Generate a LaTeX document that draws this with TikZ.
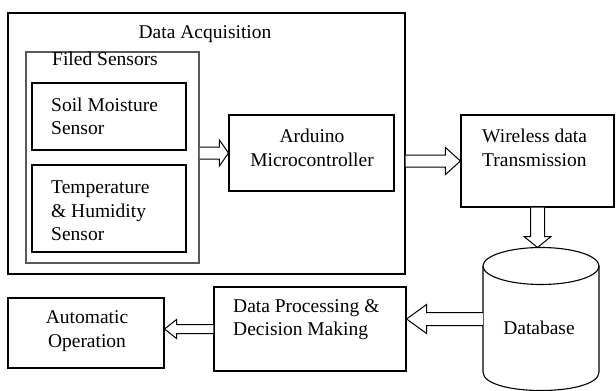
\documentclass[tikz,border=0pt]{standalone}
\usepackage{fontspec}
\setmainfont{Liberation Serif}
\usetikzlibrary{calc}

\tikzset{
  box/.style={draw, line width=1.1pt, rectangle, inner sep=0pt},
  txt/.style={font=\fontsize{19.5}{23.5}\selectfont, inner sep=0pt, align=left},
}
% hollow arrow: from, to, shaft half width, head half width, head length
\newcommand{\hollowarrow}[5]{%
  \coordinate (ha-c) at ($(#2)!#5!(#1)$);
  \draw[line width=1pt, fill=white] ($(#1)!#3!90:(#2)$) -- ($(ha-c)!#3!-90:(#1)$)
    -- ($(ha-c)!#4!-90:(#1)$) -- (#2) -- ($(ha-c)!#4!90:(#1)$)
    -- ($(ha-c)!#3!90:(#1)$) -- ($(#1)!#3!-90:(#2)$);
}

\begin{document}
\begin{tikzpicture}[x=1pt,y=-1pt]
\useasboundingbox (0,0) rectangle (616,391);
% acquisition part
\node[box, minimum width=397pt, minimum height=261pt] (acq) at (206.5,143.5) {};
\node[txt] (acqt) at (205,34) {Data Acquisition};
\node[box, draw=gray!70!black, line width=1.8pt, minimum width=173pt, minimum height=211pt] (sens) at (112.5,157.5) {};
\node[txt, anchor=west] (senst) at (52,59) {Filed Sensors};
\node[box, minimum width=154pt, minimum height=67pt] (soil) at (109,116.5) {};
\node[txt, anchor=west] (soilt) at (51,116.5) {Soil Moisture\\Sensor};
\node[box, minimum width=154pt, minimum height=87pt] (temp) at (109,208.5) {};
\node[txt, anchor=west] (tempt) at (51,211) {Temperature\\\& Humidity\\Sensor};
\node[box, minimum width=165pt, minimum height=76pt] (ard) at (311.5,153) {};
\node[txt, align=center] (ardt) at (312,148) {Arduino\\Microcontroller};
% transmission and storage
\node[box, minimum width=153pt, minimum height=92pt] (wl) at (537.5,161) {};
\node[txt, anchor=west] (wlt) at (482,148) {Wireless data\\Transmission};
\node[inner sep=0pt, minimum width=116pt, minimum height=106pt] (db) at (541,319) {};
\coordinate (dbtop) at (541,247.5);
\draw[line width=1.1pt] (541,266) ellipse [x radius=58, y radius=18.5];
\draw[line width=1.1pt] (483,266) -- (483,372) .. controls (483,396.7) and (599,396.7) .. (599,372) -- (599,266);
\node[txt] (dbt) at (539,328) {Database};
% processing
\node[box, minimum width=192pt, minimum height=84pt] (dp) at (310,329) {};
\node[txt, anchor=west] (dpt) at (233,319.5) {Data Processing \&\\Decision Making};
\node[box, minimum width=156pt, minimum height=70pt] (ao) at (86,333) {};
\node[txt, align=center] (aot) at (87,331) {Automatic\\Operation};
% arrows
\coordinate (a1) at (sens.east |- ard.west);
\hollowarrow{a1}{ard.west}{6pt}{13pt}{9pt}
\coordinate (a2) at (acq.east |- wl.west);
\hollowarrow{a2}{wl.west}{6pt}{13.5pt}{15pt}
\coordinate (a3) at (wl.south |- dbtop);
\hollowarrow{wl.south}{a3}{7pt}{13.5pt}{11pt}
\coordinate (a4) at (dp.east |- db.west);
\hollowarrow{db.west}{a4}{6.5pt}{14.5pt}{20pt}
\coordinate (a5) at (ao.east |- dp.west);
\hollowarrow{dp.west}{a5}{4.5pt}{9.5pt}{12pt}
\end{tikzpicture}
\end{document}
